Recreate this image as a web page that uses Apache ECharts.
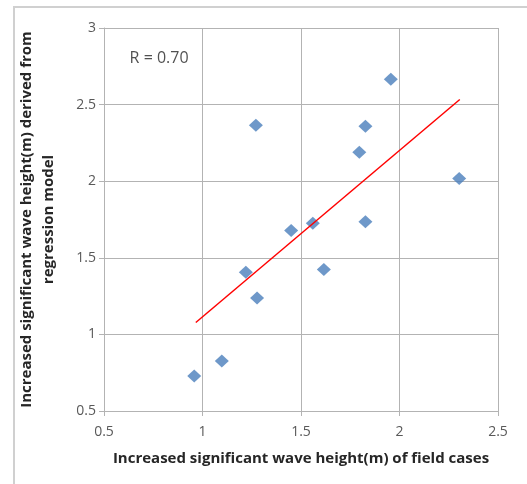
<!DOCTYPE html>
<html>
<head>
<meta charset="utf-8">
<script src="https://cdn.jsdelivr.net/npm/echarts@6/dist/echarts.min.js"></script>
<style>
html, body { margin: 0; padding: 0; background: #fff; }
#main { width: 527px; height: 484px; }
</style>
</head>
<body>
<div id="main"></div>
<script>
// field cases vs regression model
var fieldValues = [0.958, 1.098, 1.22, 1.277, 1.271, 1.45, 1.56, 1.616, 1.796, 1.827, 1.827, 1.956, 2.303];
var modelValues = [0.728, 0.826, 1.406, 1.237, 2.365, 1.678, 1.726, 1.424, 2.189, 2.359, 1.735, 2.665, 2.018];
var trendX = [0.966, 2.306];
var trendY = [1.078, 2.533];
var rLabel = "R = 0.70";

var points = fieldValues.map(function (v, i) { return [v, modelValues[i]]; });
var trend = trendX.map(function (v, i) { return [v, trendY[i]]; });

var myChart = echarts.init(document.getElementById("main"));
var gridColor = "#b3b3b3";
var font = "Open Sans, Liberation Sans, sans-serif";

myChart.setOption({
	animation: false,
	textStyle: { fontFamily: font },
	grid: { left: 104, top: 28, right: 29, bottom: 73 },
	graphic: [{
		type: "rect",
		shape: { x: 14, y: 7, width: 600, height: 600 },
		style: { fill: null, stroke: "#d0d0d0", lineWidth: 2 },
		silent: true
	}],
	xAxis: {
		type: "value",
		min: 0.5,
		max: 2.5,
		interval: 0.5,
		name: "Increased significant wave height(m) of field cases",
		nameLocation: "middle",
		nameGap: 40,
		nameTextStyle: { fontSize: 15, fontWeight: "bold", color: "#262626", fontFamily: font },
		axisLine: { show: true, lineStyle: { color: gridColor, width: 1 } },
		axisTick: { show: true, length: 5, lineStyle: { color: gridColor } },
		axisLabel: { fontSize: 14, color: "#595959", margin: 14 },
		splitLine: { show: true, lineStyle: { color: gridColor, width: 1 } }
	},
	yAxis: {
		type: "value",
		min: 0.5,
		max: 3,
		interval: 0.5,
		name: "Increased significant wave height(m) derived from\nregression model",
		nameLocation: "middle",
		nameGap: 44,
		nameTextStyle: { fontSize: 15, fontWeight: "bold", color: "#262626", lineHeight: 22, fontFamily: font },
		axisLine: { show: true, lineStyle: { color: gridColor, width: 1 } },
		axisTick: { show: true, length: 5, lineStyle: { color: gridColor } },
		axisLabel: { fontSize: 14, color: "#595959", margin: 8 },
		splitLine: { show: true, lineStyle: { color: gridColor, width: 1 } }
	},
	series: [{
		type: "scatter",
		data: points,
		symbol: "diamond",
		symbolSize: [14, 13],
		itemStyle: { color: "#4a7ebb" },
		z: 3
	}, {
		type: "line",
		data: trend,
		symbol: "none",
		lineStyle: { color: "#ff0000", width: 1.5 },
		z: 4
	}, {
		type: "scatter",
		data: [[0.63, 2.8]],
		symbolSize: 0,
		label: {
			show: true,
			position: "right",
			distance: 0,
			formatter: rLabel,
			fontSize: 16,
			color: "#262626",
			fontFamily: font
		}
	}]
});
</script>
</body>
</html>
